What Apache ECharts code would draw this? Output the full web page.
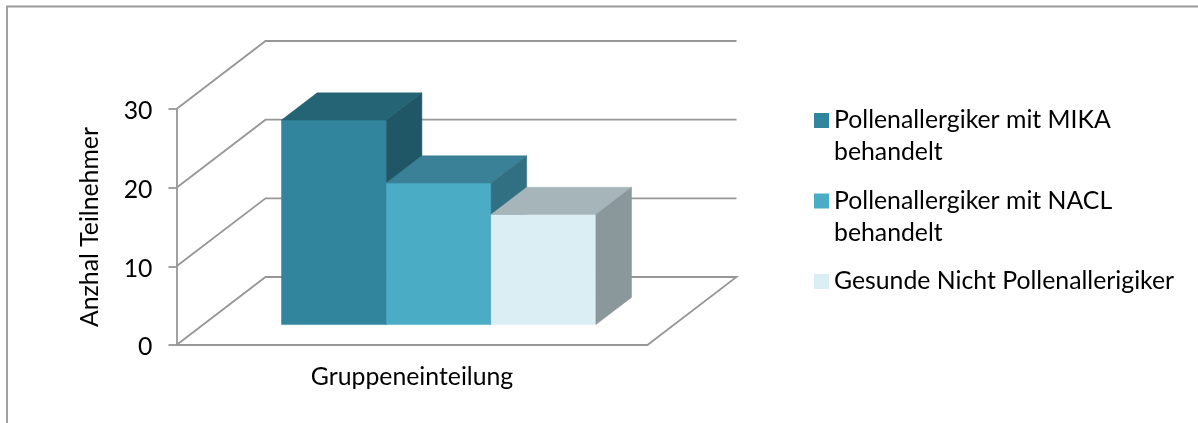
<!DOCTYPE html>
<html><head><meta charset="utf-8">
<style>html,body{margin:0;padding:0;background:#fff}#c{width:1198px;height:423px}</style>
<script src="https://cdn.jsdelivr.net/npm/echarts@6/dist/echarts.min.js"></script>
</head><body><div id="c"></div>
<script>
const categories = ['Gruppeneinteilung'];
const yTicks = [0, 10, 20, 30];
const seriesNames = ['Pollenallergiker mit MIKA\nbehandelt', 'Pollenallergiker mit NACL\nbehandelt', 'Gesunde Nicht Pollenallerigiker'];
const mika = [26];
const nacl = [18];
const gesund = [14];
const seriesValues = [mika, nacl, gesund];
const frontColors = ['#31859c', '#4bacc6', '#dbeef4'];
const topColors = ['#256475', '#3a8197', '#a6b5ba'];
const sideColors = ['#205766', '#316f82', '#8a979b'];

const FONT = 'Lato';
const FONT_SIZE = 24.8;
const GRID_GREY = '#979797';
const WALL_DX = 89, WALL_DY = 68;
const BAR_NEAR = 0.30, BAR_FAR = 0.70;
const BAR_BAND = 0.2225;

function wallItem(params, api) {
  const cs = params.coordSys;
  const v = api.value(0);
  const y = api.coord([0, v])[1];
  const x0 = cs.x, x1 = cs.x + cs.width;
  const pts = [[x0, y], [x0 + WALL_DX, y - WALL_DY], [x1 + WALL_DX, y - WALL_DY]];
  if (v === 0) pts.push([x1, y]);
  return { type: 'polyline', silent: true, shape: { points: pts },
    style: { stroke: GRID_GREY, lineWidth: 1.8, fill: null } };
}

function barRenderer(si) {
  return function (params, api) {
    const band = api.size([1, 0])[0];
    const w = band * BAR_BAND;
    const base = api.coord([api.value(0), 0]);
    const topP = api.coord([api.value(0), api.value(1)]);
    const nx = WALL_DX * BAR_NEAR, ny = WALL_DY * BAR_NEAR;
    const dx = WALL_DX * (BAR_FAR - BAR_NEAR), dy = WALL_DY * (BAR_FAR - BAR_NEAR);
    const l = base[0] - 1.5 * w + si * w + nx, r = l + w;
    const b = base[1] - ny, t = topP[1] - ny;
    const poly = (points, fill) => ({ type: 'polygon', shape: { points },
      style: { fill, stroke: fill, lineWidth: 0.5 } });
    return { type: 'group', children: [
      poly([[l, b], [r, b], [r, t], [l, t]], frontColors[si]),
      poly([[l, t], [r, t], [r + dx, t - dy], [l + dx, t - dy]], topColors[si]),
      poly([[r, b], [r + dx, b - dy], [r + dx, t - dy], [r, t]], sideColors[si])
    ] };
  };
}

const option = {
  animation: false,
  backgroundColor: '#fff',
  textStyle: { fontFamily: FONT },
  graphic: [{ type: 'polyline', silent: true,
    shape: { points: [[7, 423], [7, 6.5], [1198, 6.5]] },
    style: { stroke: '#9a9a9a', lineWidth: 1.8, fill: null } }],
  grid: { left: 176.5, top: 109, width: 471, height: 236 },
  legend: {
    orient: 'vertical', left: 814, top: 72.5, padding: 0,
    itemWidth: 15, itemHeight: 15, itemGap: -15.5, icon: 'rect',
    formatter: name => name.includes('\n') ? '\n' + name : '\n' + name + '\n',
    data: seriesNames.map((name, i) => ({ name, itemStyle: { color: frontColors[i] } })),
    textStyle: { fontFamily: FONT, fontSize: FONT_SIZE, color: '#000', lineHeight: 32 }
  },
  xAxis: { type: 'category', data: categories,
    axisLine: { show: true, lineStyle: { color: GRID_GREY, width: 1.8 } },
    axisTick: { show: false },
    axisLabel: { fontFamily: FONT, fontSize: FONT_SIZE, color: '#000', margin: 20 } },
  yAxis: { type: 'value', min: 0, max: 30, interval: 10,
    name: 'Anzhal Teilnehmer', nameLocation: 'middle', nameGap: 74,
    nameTextStyle: { fontFamily: FONT, fontSize: FONT_SIZE, color: '#000' },
    axisLine: { show: true, lineStyle: { color: GRID_GREY, width: 1.8 } },
    axisTick: { show: true, length: 8, lineStyle: { color: GRID_GREY, width: 1.8 } },
    splitLine: { show: false },
    axisLabel: { color: '#000', margin: 24, formatter: '{a|{value}}',
      rich: { a: { fontFamily: FONT, fontSize: FONT_SIZE, color: '#000', padding: [5, 0, 0, 0] } } } },
  series: [
    { type: 'custom', silent: true, renderItem: wallItem, data: yTicks.map(v => [v]),
      encode: { y: 0 }, z: 1 },
    ...seriesNames.map((name, i) => ({
      type: 'custom', name, z: 2 + i,
      itemStyle: { color: frontColors[i] },
      renderItem: barRenderer(i),
      encode: { x: 0, y: 1 },
      data: seriesValues[i].map((v, c) => [c, v])
    }))
  ]
};
const chart = echarts.init(document.getElementById('c'), null, { renderer: 'canvas' });
chart.setOption(option);
</script></body></html>
